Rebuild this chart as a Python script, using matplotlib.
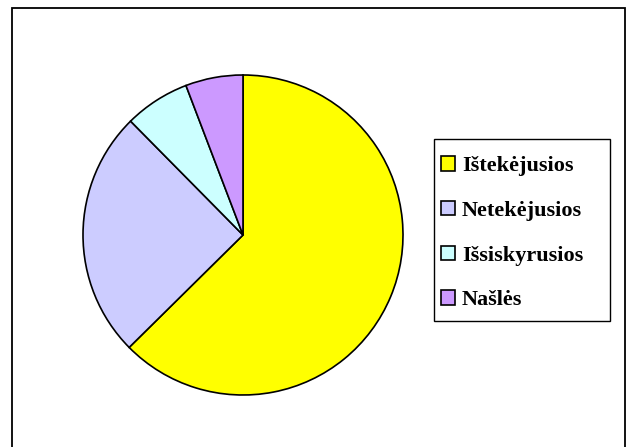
import matplotlib
matplotlib.use("Agg")
import matplotlib.pyplot as plt
from matplotlib.patches import Rectangle, Patch

# duomenys
labels = ['Ištekėjusios', 'Netekėjusios', 'Išsiskyrusios', 'Našlės']
values = [62.6, 25.0, 6.6, 5.8]
colors = ['#FFFF00', '#CCCCFF', '#CCFFFF', '#CC99FF']

W, H = 626, 447
fig = plt.figure(figsize=(W / 100, H / 100), dpi=100)

# išorinis rėmelis (be apatinio krašto)
fig.add_artist(Rectangle((11.5 / W, -0.05), (624.5 - 11.5) / W, 1.05 - 7.5 / H,
                         transform=fig.transFigure, fill=False,
                         edgecolor='black', linewidth=1.3))

ax = fig.add_axes([83 / W, (H - 395) / H, 320 / W, 320 / H])
ax.pie(values, colors=colors, startangle=90, counterclock=False,
       wedgeprops=dict(edgecolor='black', linewidth=1.2))
ax.set_xlim(-1, 1)
ax.set_ylim(-1, 1)
ax.set_aspect('equal')
ax.axis('off')

# legendos rėmelis
fig.add_artist(Rectangle((433.5 / W, 1 - 320.5 / H), 176 / W, 182 / H,
                         transform=fig.transFigure, fill=False,
                         edgecolor='black', linewidth=1.0))

handles = [Patch(facecolor=c, edgecolor='black', linewidth=1.2) for c in colors]
leg = fig.legend(handles, labels, loc='upper left',
                 bbox_to_anchor=(441 / W, 1 - 156 / H),
                 prop={'family': 'Liberation Serif', 'weight': 'bold', 'size': 16},
                 frameon=False,
                 handlelength=0.63, handleheight=0.63, handletextpad=0.32,
                 labelspacing=1.11, borderpad=0, borderaxespad=0)

plt.savefig('out.png', dpi=100)
